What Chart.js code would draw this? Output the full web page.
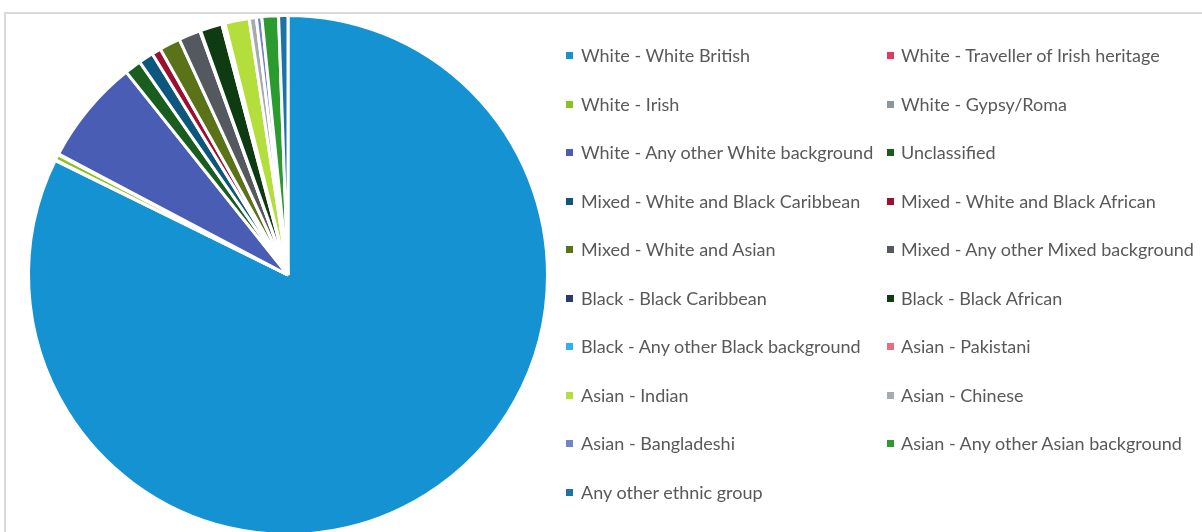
<!DOCTYPE html>
<html>
<head>
<meta charset="utf-8">
<script src="https://cdn.jsdelivr.net/npm/chart.js@4/dist/chart.umd.min.js"></script>
<style>
  html, body { margin: 0; padding: 0; width: 1202px; height: 532px; overflow: hidden; background: #fff; }
  #frame { position: absolute; left: 4px; top: 12px; width: 1300px; height: 600px; border-top: 2px solid #d9d9d9; border-left: 2px solid #d9d9d9; }
  #wrap { position: absolute; left: 0; top: 0; width: 576px; height: 550px; }
  #legend { position: absolute; left: 0; top: 0; width: 1202px; height: 532px; font-family: Lato, "Open Sans", sans-serif; font-size: 18px; color: #595959; }
  .item { position: absolute; white-space: nowrap; line-height: 20px; }
  .box { position: absolute; width: 7px; height: 7px; }
</style>
</head>
<body>
<div id="frame"></div>
<div id="wrap"><canvas id="c" width="576" height="550"></canvas></div>
<div id="legend"></div>
<script>
const categories = [
  "White - White British",
  "White - Traveller of Irish heritage",
  "White - Irish",
  "White - Gypsy/Roma",
  "White - Any other White background",
  "Unclassified",
  "Mixed - White and Black Caribbean",
  "Mixed - White and Black African",
  "Mixed - White and Asian",
  "Mixed - Any other Mixed background",
  "Black - Black Caribbean",
  "Black - Black African",
  "Black - Any other Black background",
  "Asian - Pakistani",
  "Asian - Indian",
  "Asian - Chinese",
  "Asian - Bangladeshi",
  "Asian - Any other Asian background",
  "Any other ethnic group"
];
const shares = [82.2, 0.05, 0.35, 0.05, 6.56, 1.03, 0.92, 0.57, 1.31, 1.36, 0.05, 1.36, 0.1, 0.1, 1.51, 0.44, 0.34, 1.03, 0.58];
const colors = [
  "#1592d2", "#e03a5c", "#8cc21e", "#8e959b", "#4a5db5", "#1a5e1f",
  "#0d567e", "#9c0f2e", "#5a7319", "#54595f", "#283a6e", "#0f3b12",
  "#31b1ea", "#ee6a80", "#b4de3c", "#a6abb0", "#7084cc", "#2b9b30", "#1c73a6"
];

const chart = new Chart(document.getElementById('c'), {
  type: 'pie',
  data: {
    labels: categories,
    datasets: [{
      data: shares,
      backgroundColor: colors,
      borderColor: '#ffffff',
      borderWidth: 3
    }]
  },
  options: {
    responsive: false,
    animation: false,
    layout: { padding: { left: 27, right: 27, top: 14, bottom: 14 } },
    plugins: { legend: { display: false }, tooltip: { enabled: false } }
  }
});

// Legend (two columns, row-major), built from the chart's labels and colours
const legend = document.getElementById('legend');
const colX = [[566, 581], [887, 901]];
const rowY0 = 55, rowStep = 48.5;
chart.data.labels.forEach((lab, i) => {
  const col = i % 2, row = Math.floor(i / 2);
  const cy = rowY0 + row * rowStep;
  const b = document.createElement('div');
  b.className = 'box';
  b.style.left = colX[col][0] + 'px';
  b.style.top = (cy - 3) + 'px';
  b.style.background = chart.data.datasets[0].backgroundColor[i];
  legend.appendChild(b);
  const t = document.createElement('div');
  t.className = 'item';
  t.style.left = colX[col][1] + 'px';
  t.style.top = (cy - 10) + 'px';
  t.textContent = lab;
  legend.appendChild(t);
});
</script>
</body>
</html>
